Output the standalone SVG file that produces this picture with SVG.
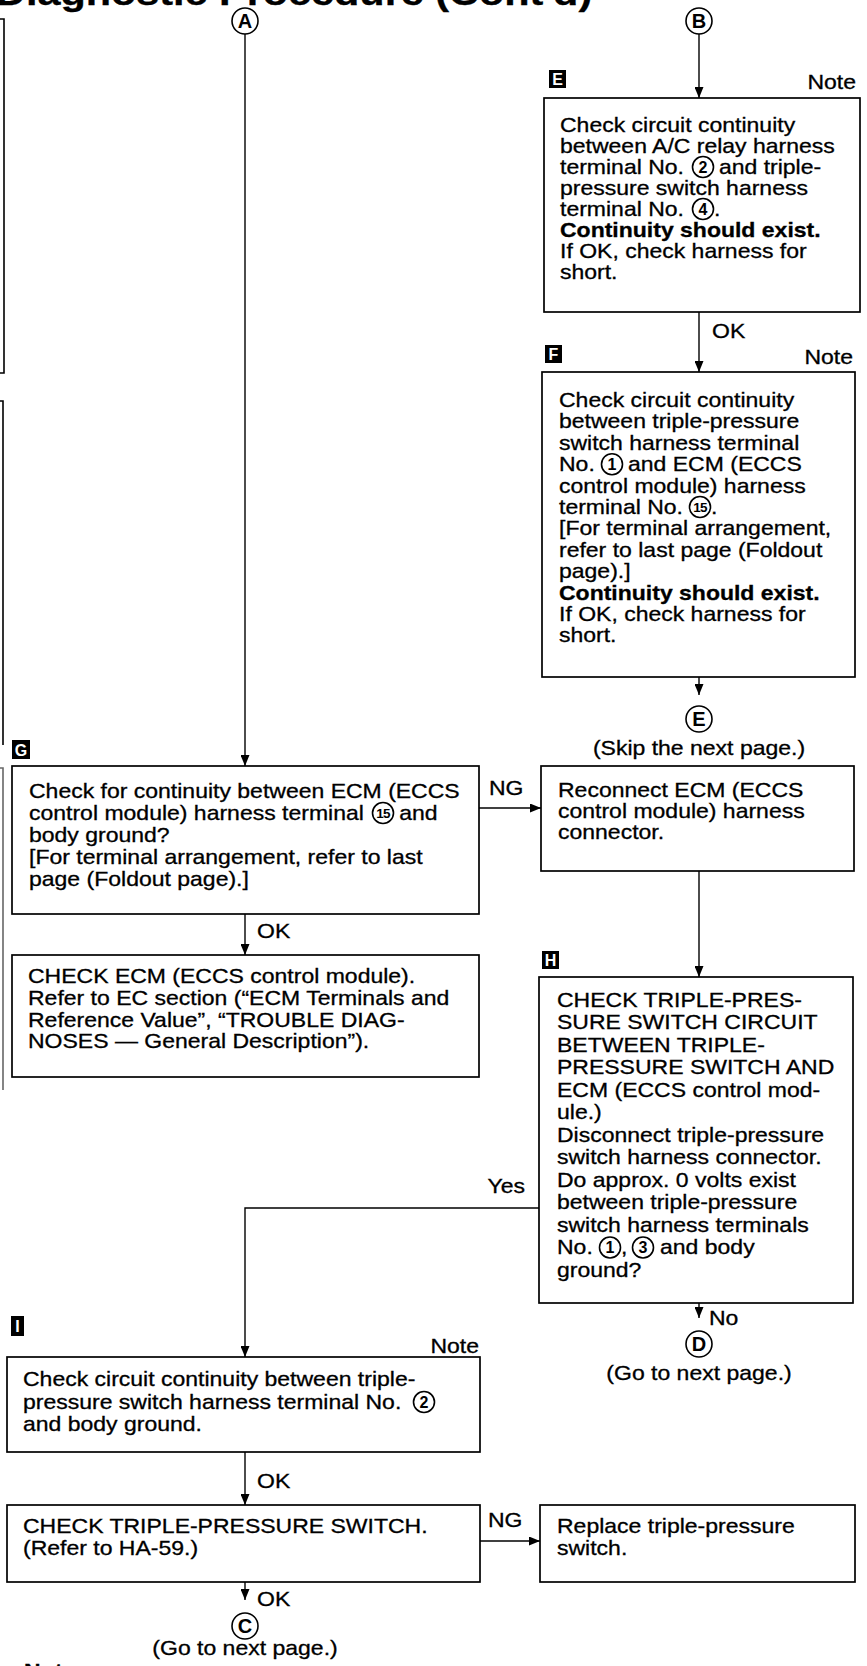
<svg xmlns="http://www.w3.org/2000/svg" width="867" height="1666" viewBox="0 0 867 1666">
<defs>
<marker id="ah" viewBox="0 0 11 9" refX="11" refY="4.5" markerWidth="11" markerHeight="9" markerUnits="userSpaceOnUse" orient="auto"><path d="M0,0 L11,4.5 L0,9 Z" fill="#000"/></marker>
<style>
.t{font-family:"Liberation Sans",Arial,Helvetica,sans-serif;font-size:20px;fill:#000;stroke:#000;stroke-width:0.3}
.b{font-weight:bold}
.box{fill:#fff;stroke:#000;stroke-width:1.7}
.ln{fill:none;stroke:#000;stroke-width:1.4}
.cl{fill:#fff;stroke:#000;stroke-width:1.6}
.cn{font-family:"Liberation Sans",Arial,sans-serif;font-weight:bold;font-size:16px;text-anchor:middle;fill:#000}
.cn2{font-family:"Liberation Sans",Arial,sans-serif;font-weight:bold;font-size:13.5px;text-anchor:middle;fill:#000;letter-spacing:-0.7px}
.lab{fill:#000}
.labt{font-family:"Liberation Sans",Arial,sans-serif;font-weight:bold;font-size:16px;text-anchor:middle;fill:#fff}
.cc{font-family:"Liberation Sans",Arial,sans-serif;font-weight:bold;font-size:20px;text-anchor:middle;fill:#000}
.edge{fill:none;stroke:#000;stroke-width:1.6}
</style>
</defs>
<rect width="867" height="1666" fill="#fff"/>

<g id="title"><text class="t b" style="font-size:36px" transform="translate(-4 5) scale(1.15 1)">Diagnostic Procedure (Cont'd)</text></g>

<g id="page-edge">
<path class="edge" d="M0,19 H4 V373 H0"/>
<path class="edge" d="M0,401 H3 V745"/>
<path class="edge" d="M0,768 H3 V1090" stroke-opacity="0.6"/>
</g>

<g id="connectors">
<path class="ln" d="M245,34 V766" marker-end="url(#ah)"/>
<path class="ln" d="M699,34 V98" marker-end="url(#ah)"/>
<path class="ln" d="M699,312 V372" marker-end="url(#ah)"/>
<path class="ln" d="M699,677 V695" marker-end="url(#ah)"/>
<path class="ln" d="M479,808 H541" marker-end="url(#ah)"/>
<path class="ln" d="M699,871 V977" marker-end="url(#ah)"/>
<path class="ln" d="M245,914 V955" marker-end="url(#ah)"/>
<path class="ln" d="M539,1208 H245 V1357" marker-end="url(#ah)"/>
<path class="ln" d="M699,1303 V1318" marker-end="url(#ah)"/>
<path class="ln" d="M245,1452 V1505" marker-end="url(#ah)"/>
<path class="ln" d="M480,1541 H540" marker-end="url(#ah)"/>
<path class="ln" d="M245,1582 V1600" marker-end="url(#ah)"/>
<text class="t" transform="translate(712 338) scale(1.15 1)">OK</text>
<text class="t" transform="translate(489 795) scale(1.15 1)">NG</text>
<text class="t" transform="translate(257 938) scale(1.15 1)">OK</text>
<text class="t" text-anchor="end" transform="translate(525 1193) scale(1.15 1)">Yes</text>
<text class="t" transform="translate(709 1325) scale(1.15 1)">No</text>
<text class="t" transform="translate(257 1488) scale(1.15 1)">OK</text>
<text class="t" transform="translate(488 1527) scale(1.15 1)">NG</text>
<text class="t" transform="translate(257 1606) scale(1.15 1)">OK</text>
</g>

<g id="conn-A"><circle class="cl" cx="245" cy="21" r="13"/><text class="cc" x="245" y="28">A</text></g>
<g id="conn-B"><circle class="cl" cx="699" cy="21" r="13"/><text class="cc" x="699" y="28">B</text></g>

<g id="node-E">
<rect class="lab" x="549" y="70" width="17" height="18"/><text class="labt" x="557.5" y="85">E</text>
<text class="t" text-anchor="end" transform="translate(856 89) scale(1.15 1)">Note</text>
<rect class="box" x="544" y="98" width="316" height="214"/>
<g transform="translate(560 0) scale(1.15 1)">
<text class="t" x="0" y="132">Check circuit continuity</text>
<text class="t" x="0" y="153">between A/C relay harness</text>
<text class="t" x="0" y="174">terminal No.</text><text class="t" x="138.2" y="174">and triple-</text>
<text class="t" x="0" y="195">pressure switch harness</text>
<text class="t" x="0" y="216">terminal No.</text><text class="t" x="133.9" y="216">.</text>
<text class="t b" x="0" y="237">Continuity should exist.</text>
<text class="t" x="0" y="258">If OK, check harness for</text>
<text class="t" x="0" y="279">short.</text>
</g>
<circle class="cl" cx="703" cy="167" r="10.5"/><text class="cn" x="703" y="172.8">2</text>
<circle class="cl" cx="703" cy="209" r="10.5"/><text class="cn" x="703" y="214.8">4</text>
</g>

<g id="node-F">
<rect class="lab" x="545" y="345" width="17" height="18"/><text class="labt" x="553.5" y="360">F</text>
<text class="t" text-anchor="end" transform="translate(853 364) scale(1.15 1)">Note</text>
<rect class="box" x="542" y="372" width="313" height="305"/>
<g transform="translate(559 0) scale(1.15 1)">
<text class="t" x="0" y="407">Check circuit continuity</text>
<text class="t" x="0" y="428.4">between triple-pressure</text>
<text class="t" x="0" y="449.8">switch harness terminal</text>
<text class="t" x="0" y="471.2">No.</text><text class="t" x="60" y="471.2">and ECM (ECCS</text>
<text class="t" x="0" y="492.6">control module) harness</text>
<text class="t" x="0" y="514">terminal No.</text><text class="t" x="132.2" y="514">.</text>
<text class="t" x="0" y="535.4">[For terminal arrangement,</text>
<text class="t" x="0" y="556.8">refer to last page (Foldout</text>
<text class="t" x="0" y="578.2">page).]</text>
<text class="t b" x="0" y="599.6">Continuity should exist.</text>
<text class="t" x="0" y="621">If OK, check harness for</text>
<text class="t" x="0" y="642.4">short.</text>
</g>
<circle class="cl" cx="612" cy="464.2" r="10.5"/><text class="cn" x="612" y="470">1</text>
<circle class="cl" cx="700" cy="507" r="10.5"/><text class="cn2" x="700" y="511.8">15</text>
</g>

<g id="conn-E"><circle class="cl" cx="699" cy="719" r="13"/><text class="cc" x="699" y="726">E</text>
<text class="t" text-anchor="middle" transform="translate(699 755) scale(1.15 1)">(Skip the next page.)</text></g>

<g id="node-G">
<rect class="lab" x="12" y="740" width="18" height="19"/><text class="labt" x="21" y="755.5">G</text>
<rect class="box" x="12" y="766" width="467" height="148"/>
<g transform="translate(29 0) scale(1.15 1)">
<text class="t" x="0" y="798">Check for continuity between ECM (ECCS</text>
<text class="t" x="0" y="820">control module) harness terminal</text><text class="t" x="322" y="820">and</text>
<text class="t" x="0" y="842">body ground?</text>
<text class="t" x="0" y="864">[For terminal arrangement, refer to last</text>
<text class="t" x="0" y="886">page (Foldout page).]</text>
</g>
<circle class="cl" cx="383" cy="813" r="10.5"/><text class="cn2" x="383" y="817.8">15</text>
</g>

<g id="node-R">
<rect class="box" x="541" y="766" width="313" height="105"/>
<g transform="translate(558 0) scale(1.15 1)">
<text class="t" x="0" y="797">Reconnect ECM (ECCS</text>
<text class="t" x="0" y="818">control module) harness</text>
<text class="t" x="0" y="839">connector.</text>
</g>
</g>

<g id="node-ECM">
<rect class="box" x="12" y="955" width="467" height="122"/>
<g transform="translate(28 0) scale(1.15 1)">
<text class="t" x="0" y="983">CHECK ECM (ECCS control module).</text>
<text class="t" x="0" y="1005">Refer to EC section (“ECM Terminals and</text>
<text class="t" x="0" y="1027">Reference Value”, “TROUBLE DIAG-</text>
<text class="t" x="0" y="1048">NOSES — General Description”).</text>
</g>
</g>

<g id="node-H">
<rect class="lab" x="542" y="951" width="17" height="18"/><text class="labt" x="550.5" y="966">H</text>
<rect class="box" x="539" y="977" width="314" height="326"/>
<g transform="translate(557 0) scale(1.15 1)">
<text class="t" x="0" y="1007">CHECK TRIPLE-PRES-</text>
<text class="t" x="0" y="1029.5">SURE SWITCH CIRCUIT</text>
<text class="t" x="0" y="1052">BETWEEN TRIPLE-</text>
<text class="t" x="0" y="1074.5">PRESSURE SWITCH AND</text>
<text class="t" x="0" y="1097">ECM (ECCS control mod-</text>
<text class="t" x="0" y="1119.5">ule.)</text>
<text class="t" x="0" y="1142">Disconnect triple-pressure</text>
<text class="t" x="0" y="1164.5">switch harness connector.</text>
<text class="t" x="0" y="1187">Do approx. 0 volts exist</text>
<text class="t" x="0" y="1209.5">between triple-pressure</text>
<text class="t" x="0" y="1232">switch harness terminals</text>
<text class="t" x="0" y="1254.5">No.</text><text class="t" x="55.7" y="1254.5">,</text><text class="t" x="89.6" y="1254.5">and body</text>
<text class="t" x="0" y="1277">ground?</text>
</g>
<circle class="cl" cx="610" cy="1247.5" r="10.5"/><text class="cn" x="610" y="1253.3">1</text>
<circle class="cl" cx="643" cy="1247.5" r="10.5"/><text class="cn" x="643" y="1253.3">3</text>
</g>

<g id="conn-D"><circle class="cl" cx="699" cy="1344" r="13"/><text class="cc" x="699" y="1351">D</text>
<text class="t" text-anchor="middle" transform="translate(699 1380) scale(1.15 1)">(Go to next page.)</text></g>

<g id="node-I">
<rect class="lab" x="11" y="1316" width="13" height="20"/><text class="labt" x="17.5" y="1332">I</text>
<text class="t" text-anchor="end" transform="translate(479 1353) scale(1.15 1)">Note</text>
<rect class="box" x="7" y="1357" width="473" height="95"/>
<g transform="translate(23 0) scale(1.15 1)">
<text class="t" x="0" y="1386">Check circuit continuity between triple-</text>
<text class="t" x="0" y="1409">pressure switch harness terminal No.</text>
<text class="t" x="0" y="1431">and body ground.</text>
</g>
<circle class="cl" cx="424" cy="1402" r="10.5"/><text class="cn" x="424" y="1407.8">2</text>
</g>

<g id="node-CTPS">
<rect class="box" x="7" y="1505" width="473" height="77"/>
<g transform="translate(23 0) scale(1.15 1)">
<text class="t" x="0" y="1533">CHECK TRIPLE-PRESSURE SWITCH.</text>
<text class="t" x="0" y="1555">(Refer to HA-59.)</text>
</g>
</g>

<g id="node-Replace">
<rect class="box" x="540" y="1505" width="315" height="77"/>
<g transform="translate(557 0) scale(1.15 1)">
<text class="t" x="0" y="1533">Replace triple-pressure</text>
<text class="t" x="0" y="1555">switch.</text>
</g>
</g>

<g id="conn-C"><circle class="cl" cx="245" cy="1626" r="13"/><text class="cc" x="245" y="1633">C</text>
<text class="t" text-anchor="middle" transform="translate(245 1655) scale(1.15 1)">(Go to next page.)</text></g>

<g id="footnote"><text class="t b" transform="translate(24 1678) scale(1.15 1)">Note</text></g>
</svg>
